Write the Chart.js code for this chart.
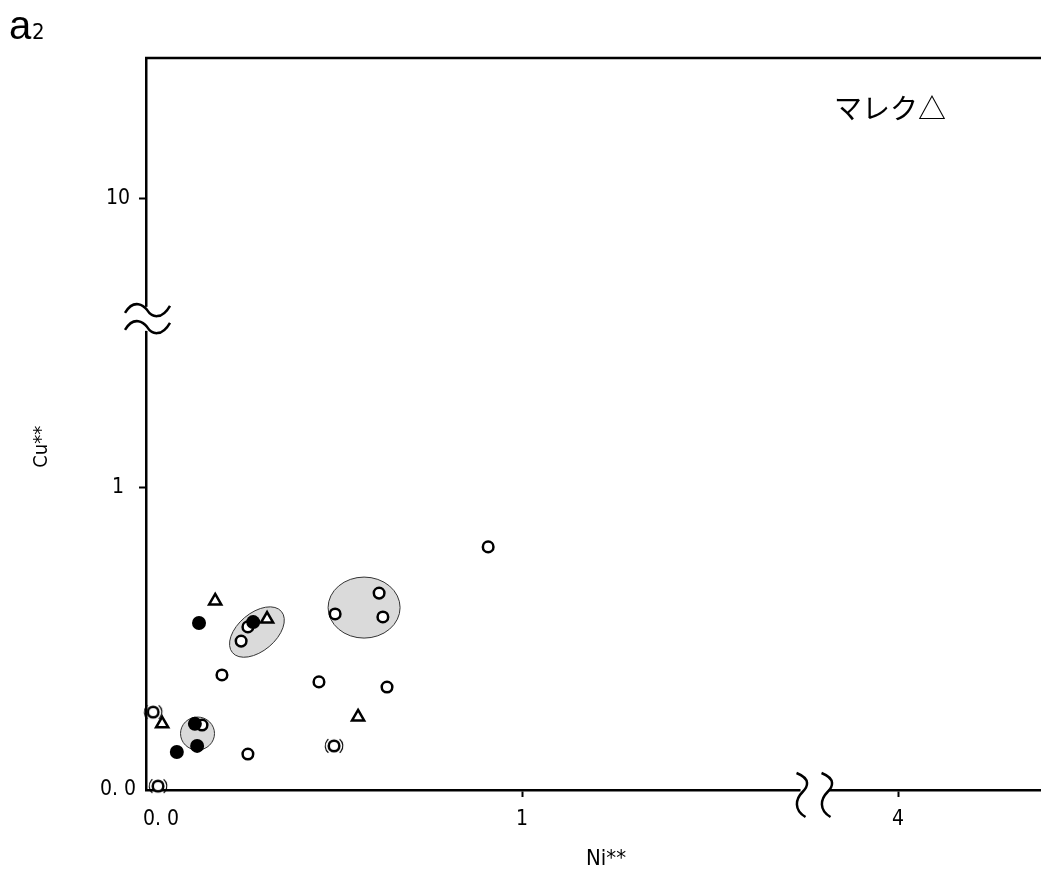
<!DOCTYPE html>
<html>
<head>
<meta charset="utf-8">
<script src="https://cdn.jsdelivr.net/npm/chart.js@4.4.0/dist/chart.umd.min.js"></script>
<style>body{margin:0;background:#fff}</style>
</head>
<body>
<div style="width:1041px;height:870px"><canvas id="nicuChart" width="1041" height="870"></canvas></div>
<script>
// data (Ni**, Cu**)
const openNi = [0.910, 0.620, 0.503, 0.630, 0.271, 0.253, 0.202, 0.460, 0.641, 0.149, 0.271]
const openCu = [0.805, 0.652, 0.583, 0.573, 0.540, 0.493, 0.381, 0.358, 0.341, 0.215, 0.119]
const parenNi = [0.019, 0.500, 0.032]
const parenCu = [0.258, 0.146, 0.013]
const filledNi = [0.141, 0.285, 0.130, 0.136, 0.082]
const filledCu = [0.553, 0.556, 0.219, 0.146, 0.126]
const triNi = [0.184, 0.322, 0.564, 0.043]
const triCu = [0.626, 0.566, 0.242, 0.219]
// grouped samples (shaded ellipses), centres
const groupNi = [0.580, 0.295, 0.137]
const groupCu = [0.604, 0.523, 0.187]

const xTicks = [0, 1, 4]
const xTickLabels = ['     0. 0', '1', '4']
const yTicks = [0, 1, 10]
const yTickLabels = ['0. 0', '1', '10']

// broken axes: 0..1 linear, then compressed above the break
function xAxis(v) { return v <= 1 ? v : 1 + (v - 1) / 3 }
function yAxis(v) { return v <= 1 ? v : 1 + 0.96 * Math.log10(v) }

const narrow = '"Liberation Sans Narrow", "DejaVu Sans Condensed", sans-serif'
const groupStyle = [
  {rx: 36, ry: 30.5, rot: 0},
  {rx: 32, ry: 19, rot: -40 * Math.PI / 180},
  {rx: 17, ry: 16.5, rot: 0}
]

function pts(xs, ys) {
  return xs.map((x, i) => ({x: xAxis(x), y: yAxis(ys[i])}))
}

// "(o)" marker
const parenImg = document.createElement('canvas')
parenImg.width = 24; parenImg.height = 20
{
  const c = parenImg.getContext('2d')
  c.lineWidth = 2.5; c.strokeStyle = '#000'; c.fillStyle = '#fff'
  c.beginPath(); c.arc(12, 10, 5.3, 0, Math.PI * 2); c.fill(); c.stroke()
  c.lineWidth = 1.1
  c.beginPath(); c.arc(12, 10, 8.8, Math.PI * 0.72, Math.PI * 1.28); c.stroke()
  c.beginPath(); c.arc(12, 10, 8.8, -Math.PI * 0.28, Math.PI * 0.28); c.stroke()
}

const decor = {
  id: 'decor',
  beforeDatasetsDraw(chart) {
    const {ctx, scales: {x, y}} = chart
    ctx.save()
    groupNi.forEach((g, i) => {
      const s = groupStyle[i]
      ctx.beginPath()
      ctx.ellipse(x.getPixelForValue(xAxis(g)), y.getPixelForValue(yAxis(groupCu[i])), s.rx, s.ry, s.rot, 0, Math.PI * 2)
      ctx.fillStyle = '#dadada'
      ctx.fill()
      ctx.lineWidth = 1
      ctx.strokeStyle = '#333'
      ctx.stroke()
    })
    ctx.restore()
  },
  afterDraw(chart) {
    const {ctx, chartArea: a, scales: {x, y}} = chart
    ctx.save()
    ctx.strokeStyle = '#000'
    ctx.lineWidth = 2.5
    // top frame line
    ctx.beginPath(); ctx.moveTo(a.left - 1, a.top); ctx.lineTo(a.right, a.top); ctx.stroke()

    // y break
    const by = y.getPixelForValue(1.56)
    ctx.fillStyle = '#fff'
    ctx.fillRect(a.left - 4, by - 12, 8, 24)
    for (const dy of [-9, 8]) {
      const cy = by + dy
      ctx.beginPath()
      ctx.moveTo(a.left - 21, cy + 3)
      ctx.bezierCurveTo(a.left - 12, cy - 12, a.left - 2, cy - 4, a.left + 1, cy)
      ctx.bezierCurveTo(a.left + 6, cy + 8, a.left + 16, cy + 10, a.left + 24, cy - 4)
      ctx.stroke()
    }
    // x break
    const bx = x.getPixelForValue(1.778)
    ctx.fillRect(bx - 14, a.bottom - 4, 28, 8)
    for (const dx of [-12, 13]) {
      const cx = bx + dx
      ctx.beginPath()
      ctx.moveTo(cx - 6, a.bottom - 17)
      ctx.bezierCurveTo(cx + 9, a.bottom - 11, cx + 5, a.bottom - 3, cx, a.bottom + 2)
      ctx.bezierCurveTo(cx - 7, a.bottom + 9, cx - 9, a.bottom + 20, cx + 3, a.bottom + 27)
      ctx.stroke()
    }

    // panel label and legend note
    ctx.fillStyle = '#000'
    ctx.textBaseline = 'alphabetic'
    ctx.font = '40px "Liberation Sans", Arial, sans-serif'
    ctx.fillText('a', 9, 39)
    ctx.font = '22px ' + narrow
    ctx.fillText('2', 32, 39)
    ctx.font = '28px "Noto Sans CJK JP", sans-serif'
    ctx.textBaseline = 'middle'
    ctx.fillText('マレク△', 834, 108)
    ctx.restore()
  }
}

const ctx = document.getElementById('nicuChart')
new Chart(ctx, {
  type: 'scatter',
  data: {
    datasets: [
      {
        label: 'filled', data: pts(filledNi, filledCu),
        pointStyle: 'circle', pointRadius: 7, borderWidth: 0,
        backgroundColor: '#000', borderColor: '#000'
      },
      {
        label: 'open', data: pts(openNi, openCu),
        pointStyle: 'circle', pointRadius: 5.3, borderWidth: 2.5,
        backgroundColor: '#fff', borderColor: '#000'
      },
      {
        label: 'paren', data: pts(parenNi, parenCu),
        pointStyle: parenImg
      },
      {
        label: 'triangle', data: pts(triNi, triCu),
        pointStyle: 'triangle', pointRadius: 7, borderWidth: 2.5,
        backgroundColor: '#fff', borderColor: '#000'
      }
    ]
  },
  options: {
    responsive: false,
    devicePixelRatio: 1,
    animation: false,
    layout: {autoPadding: false, padding: {top: 58, right: 0, bottom: 0, left: 0}},
    datasets: {scatter: {clip: false}},
    plugins: {legend: {display: false}, tooltip: {enabled: false}},
    scales: {
      x: {
        type: 'linear', min: 0, max: 2.3803,
        afterFit: (s) => { s.height = 80; s.paddingLeft = 0; s.paddingRight = 0 },
        afterBuildTicks: (s) => { s.ticks = xTicks.map(t => ({value: xAxis(t)})) },
        border: {display: true, color: '#000', width: 2.5},
        grid: {
          drawOnChartArea: false, drawTicks: true, tickLength: 7, tickWidth: 2,
          tickColor: (c) => (c.tick && c.tick.value === 0 ? 'rgba(0,0,0,0)' : '#000')
        },
        ticks: {
          padding: 10, maxRotation: 0, autoSkip: false, color: '#000',
          font: {family: narrow, size: 21},
          callback: (v) => xTickLabels[xTicks.findIndex(t => xAxis(t) === v)]
        },
        title: {
          display: true, text: '    Ni**', color: '#000',
          font: {family: narrow, size: 22, lineHeight: 1},
          padding: {top: 0, bottom: 0}
        }
      },
      y: {
        type: 'linear', min: 0, max: 2.4238,
        afterFit: (s) => { s.width = 146; s.paddingTop = 0; s.paddingBottom = 0 },
        afterBuildTicks: (s) => { s.ticks = yTicks.map(t => ({value: yAxis(t)})) },
        border: {display: true, color: '#000', width: 2.5},
        grid: {
          drawOnChartArea: false, drawTicks: true, tickLength: 7, tickWidth: 2,
          tickColor: (c) => (c.tick && c.tick.value === 0 ? 'rgba(0,0,0,0)' : '#000')
        },
        ticks: {
          padding: 3, crossAlign: 'center', autoSkip: false, color: '#000',
          font: {family: narrow, size: 21},
          callback: (v) => yTickLabels[yTicks.findIndex(t => yAxis(t) === v)]
        },
        title: {
          display: true, text: 'Cu**        ', color: '#000',
          font: {family: narrow, size: 20, lineHeight: 1.2},
          padding: {top: 30, bottom: 0}
        }
      }
    }
  },
  plugins: [decor]
})
</script>
</body>
</html>
